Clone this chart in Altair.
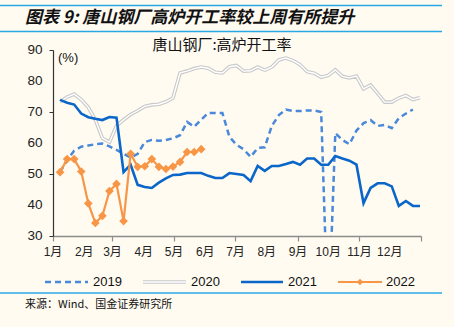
import altair as alt
import pandas as pd

# ---------------- data (weekly readings, week index 0 = first week of Jan) ----------------
v2019 = [50.6, 54.5, 57.5, 58.8, 59.2, 59.6, 59.8, 58.9, 57.8, 56.5, 55.3, 56.5, 60.3, 61.0,
         60.7, 61.0, 61.5, 62.5, 66.8, 65.2, 67.5, 69.7, 69.7, 69.7, 62.0, 59.4, 58.0, 55.5,
         58.4, 58.6, 65.5, 69.0, 70.8, 70.3, 70.3, 70.5, 70.5, 70.0, 0.0, 63.2, 61.0, 59.6,
         64.0, 66.4, 67.4, 65.5, 65.8, 64.8, 68.0, 69.5, 70.8]
v2020 = [73.3, 74.8, 75.8, 74.0, 71.5, 67.5, 61.5, 60.3, 65.5, 67.5, 69.2, 70.4, 71.8, 72.3,
         72.5, 73.3, 74.5, 82.6, 83.2, 84.0, 84.5, 84.1, 82.8, 82.6, 84.6, 85.0, 83.2, 83.3,
         84.5, 83.5, 84.5, 86.8, 87.4, 86.6, 85.3, 83.0, 82.5, 81.2, 81.8, 83.6, 81.5, 81.0,
         81.6, 77.5, 78.7, 76.0, 73.2, 73.2, 74.5, 75.3, 74.0, 74.6]
v2021 = [73.9, 73.0, 72.4, 69.5, 68.3, 67.8, 67.4, 68.4, 68.2, 50.6, 53.0, 46.5, 45.8, 45.5,
         47.2, 48.6, 49.7, 49.8, 50.3, 50.3, 50.3, 49.4, 48.7, 48.7, 50.3, 50.0, 49.7, 47.7,
         52.6, 51.0, 52.6, 52.6, 53.2, 53.9, 53.0, 55.0, 55.0, 53.0, 53.0, 55.8, 55.0, 54.3,
         53.0, 40.6, 45.5, 47.0, 47.0, 46.0, 39.7, 41.3, 39.7, 39.7]
v2022 = [50.6, 54.8, 54.8, 50.8, 40.5, 34.2, 36.5, 44.5, 46.8, 34.8, 56.5, 52.3, 52.5, 54.8,
         52.3, 51.6, 52.4, 53.9, 57.1, 57.1, 58.0]

month_labels = ["1月", "2月", "3月", "4月", "5月", "6月", "7月", "8月", "9月", "10月", "11月", "12月", ""]
month_starts = [0, 31, 59, 90, 120, 151, 181, 212, 243, 273, 304, 334, 365]
y_ticks = [30, 40, 50, 60, 70, 80, 90]
years = ["2019", "2020", "2021", "2022"]

title_text = "图表 9: 唐山钢厂高炉开工率较上周有所提升"
subtitle_text = "唐山钢厂:高炉开工率"
unit_text = "(%)"
source_text = "来源：Wind、国金证券研究所"


def frame(vals):
    return pd.DataFrame({"day": [7 + 7 * i for i in range(len(vals))], "value": vals})


FONT = "Liberation Sans, Noto Sans CJK SC, sans-serif"
CJK = "Noto Sans CJK SC"
BG = "#FFFBF1"
LINE_BLUE = "#29A8E6"

xscale = alt.Scale(domain=[0, 365], nice=False, zero=False)
yscale = alt.Scale(domain=[30, 90], nice=False, zero=False)

xaxis = alt.Axis(values=month_starts, labels=False, title=None, grid=False, domainColor="#8C8C8C",
                 tickColor="#8C8C8C", tickSize=5, domainWidth=1.5, tickWidth=1.2)
yaxis = alt.Axis(values=y_ticks, labels=False, title=None, grid=False, domainColor="#333333",
                 tickColor="#333333", tickSize=4, domainWidth=1.2)


def line(vals, axes=False, **mk):
    if axes:
        enc = dict(x=alt.X("day:Q", scale=xscale, axis=xaxis), y=alt.Y("value:Q", scale=yscale, axis=yaxis))
    else:
        enc = dict(x=alt.X("day:Q", scale=xscale), y=alt.Y("value:Q", scale=yscale))
    return alt.Chart(frame(vals)).mark_line(clip=True, **mk).encode(**enc)


l2020a = line(v2020, axes=True, color="#C8C8C8", strokeWidth=3.6)
l2020b = line(v2020, color="#FFFFFF", strokeWidth=1.4)
l2019 = line(v2019, color="#4A88D9", strokeWidth=2.5, strokeDash=[6, 4])
l2021 = line(v2021, color="#0A66C8", strokeWidth=2.6)
l2022 = line(v2022, color="#F79646", strokeWidth=2.2)
p2022 = alt.Chart(frame(v2022)).mark_point(shape="diamond", filled=True, color="#F79646", size=75,
                                           opacity=1).encode(
    x=alt.X("day:Q", scale=xscale), y=alt.Y("value:Q", scale=yscale))

# axis tick labels as text marks placed through the scales
xlab = alt.Chart(pd.DataFrame({"day": month_starts, "lab": month_labels})).mark_text(
    align="center", baseline="middle", fontSize=12, font=FONT, color="#222222"
).encode(x=alt.X("day:Q", scale=xscale), y=alt.value(201.5), text="lab:N")
ylab = alt.Chart(pd.DataFrame({"value": y_ticks})).mark_text(
    align="right", baseline="middle", fontSize=13.5, font=FONT, color="#222222"
).encode(x=alt.value(-10.5), y=alt.Y("value:Q", scale=yscale), text="value:Q")


def text_layer(txt, x, y, size, align="left", font=CJK, **kw):
    return alt.Chart(pd.DataFrame({"t": [txt]})).mark_text(
        align=align, baseline="middle", fontSize=size, font=font, color="#111111", **kw
    ).encode(x=alt.value(x), y=alt.value(y), text="t:N")


def hline(y, x1=-53, x2=389, color=LINE_BLUE, width=1.6, **kw):
    return alt.Chart(pd.DataFrame({"a": [0]})).mark_rule(color=color, strokeWidth=width, **kw).encode(
        x=alt.value(x1), x2=alt.value(x2), y=alt.value(y))


deco = [
    hline(-44.5), hline(-18.5), hline(243),
    text_layer(title_text, -28, -32, 17, fontStyle="italic", fontWeight="bold"),
    text_layer(subtitle_text, 169, -5, 15, align="center"),
    text_layer(unit_text, 5, 8, 13, font=FONT),
    text_layer(source_text, -28, 255, 11),
]

# legend
LY = 232
leg = [
    hline(LY, -8, 35, color="#4A88D9", width=2.5, strokeDash=[6, 4]),
    hline(LY, 90, 133, color="#C8C8C8", width=3.6),
    hline(LY, 90, 133, color="#FFFFFF", width=1.4),
    hline(LY, 188, 230, color="#0A66C8", width=2.6),
    hline(LY, 285, 329, color="#F79646", width=2.2),
    alt.Chart(pd.DataFrame({"a": [0]})).mark_point(shape="diamond", filled=True, color="#F79646",
                                                  size=40, opacity=1).encode(
        x=alt.value(307), y=alt.value(LY)),
    text_layer(years[0], 40, LY, 13, font=FONT),
    text_layer(years[1], 138, LY, 13, font=FONT),
    text_layer(years[2], 235, LY, 13, font=FONT),
    text_layer(years[3], 333, LY, 13, font=FONT),
]

chart = alt.layer(l2020a, l2020b, l2019, l2021, l2022, p2022, xlab, ylab, *deco, *leg).properties(
    width=368, height=186,
    autosize=alt.AutoSizeParams(type="none"),
    padding={"left": 53, "top": 50, "right": 33, "bottom": 91},
    background=BG,
).configure_view(stroke=None)

chart.save("out.html", embed_options={"renderer": "svg", "actions": False})
